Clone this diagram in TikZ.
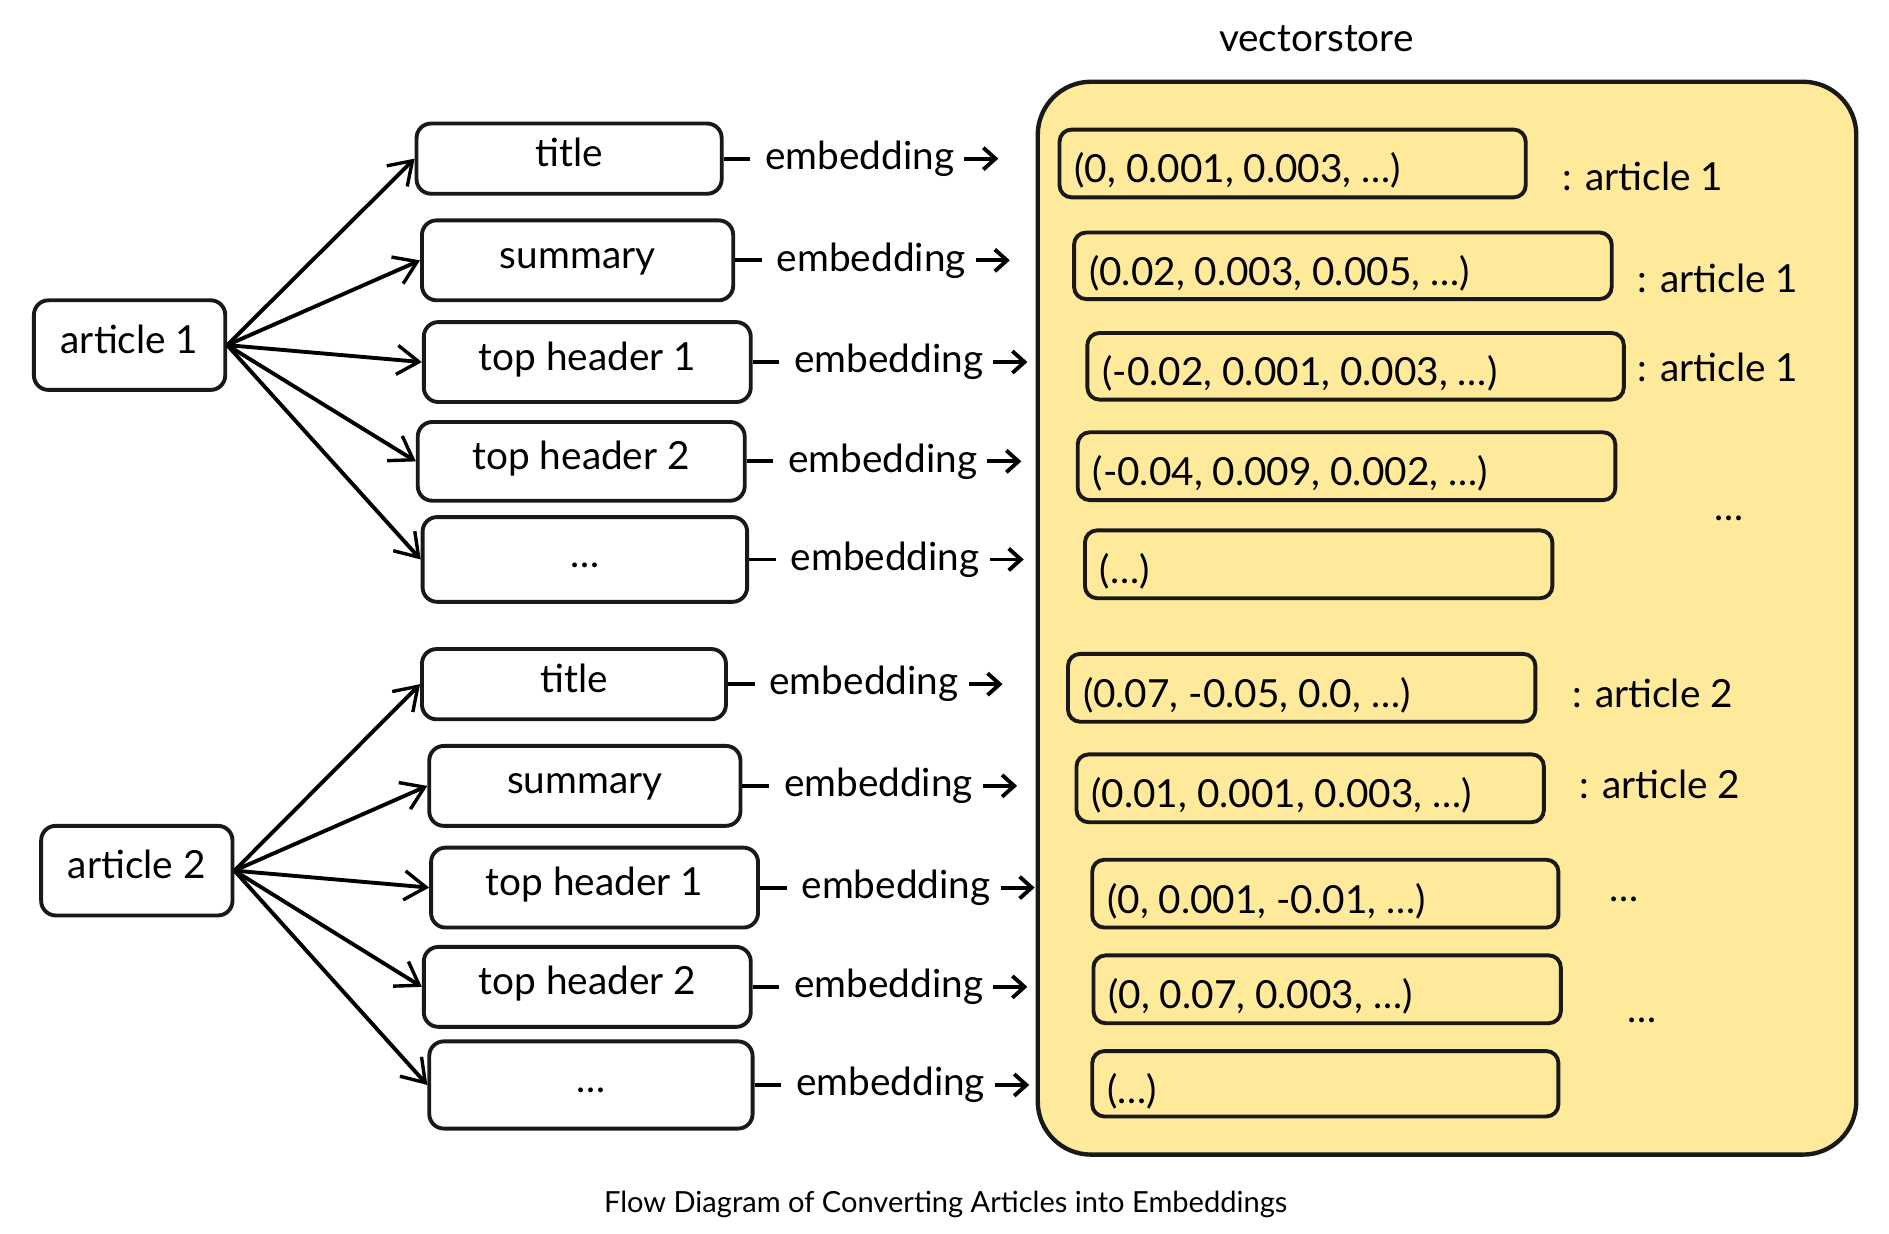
\documentclass[tikz,border=0pt]{standalone}
\usepackage{fontspec}
\setmainfont{Lato}
\usetikzlibrary{arrows.meta}
\begin{document}
\begin{tikzpicture}[x=0.5pt,y=-0.5pt,
 box/.style={draw=black!90,line width=1.6pt,rounded corners=6pt,fill=white,inner sep=0pt,font=\fontsize{16}{19}\selectfont,text height=1.75ex,text depth=0.45ex},
 vbox/.style={draw=black!90,line width=1.6pt,rounded corners=5pt,inner sep=0pt,fill=none},
 txt/.style={font=\fontsize{16}{19}\selectfont,inner sep=1pt},
 arr/.style={line width=1.6pt,-{Straight Barb[length=9pt,width=12pt,line width=1.4pt]}},
 emb/.style={line width=1.6pt,-{Straight Barb[length=5pt,width=9pt,line width=1.6pt]}}]
\useasboundingbox (0,0) rectangle (1560,1019);
\node[txt] (vs) at (1087,32) {vectorstore};
\node[draw=black!90,line width=1.8pt,fill={rgb,255:red,255;green,233;blue,154},rounded corners=22pt,minimum width=338pt,minimum height=443pt,inner sep=0pt] (store) at (1195,510.5) {};
\node[box,minimum width=79pt,minimum height=37pt] (a1) at (107,285) {article 1};
\node[box,minimum width=79pt,minimum height=37pt] (a2) at (113,719) {article 2};
\foreach \n/\x/\y/\w/\h/\t/\a in {
 p1/470/131/126/29/title/a1, p2/477/215/128.5/33/summary/a1, p3/485/299/135/33/top header 1/a1,
 p4/480/381/135/32.5/top header 2/a1, p5/483/462/134/35/\ldots/a1,
 q1/474/565/125.5/29/title/a2, q2/483/649/128.5/33/summary/a2, q3/491/733/135/33/top header 1/a2,
 q4/485/815/135/33/top header 2/a2, q5/488/896/133.5/36/\ldots/a2}{
 \node[box,minimum width=\w pt,minimum height=\h pt] (\n) at (\x,\y) {\t};
 \draw[arr] (\a.east) -- (\n.west);
 \node[txt,anchor=west] (\n l) at ([xshift=16pt]\n.east) {embedding};
 \coordinate (\n d) at ([xshift=11pt]\n.east);
 \draw[line width=1.6pt] (\n.east) -- (\n d);
 \coordinate (\n s) at ([xshift=3pt]\n l.east);
 \coordinate (\n t) at ([xshift=17pt]\n l.east);
 \draw[emb] (\n s) -- (\n t);
}
\foreach \n/\xa/\xb/\ya/\yb/\t in {
 v1/875/1260/107/163/{(0, 0.001, 0.003, \ldots)}, v2/887/1331/192/247/{(0.02, 0.003, 0.005, \ldots)},
 v3/898/1341/275/330/{(-0.02, 0.001, 0.003, \ldots)}, v4/890/1334/357/413/{(-0.04, 0.009, 0.002, \ldots)},
 v5/896/1282/438/494/{(\ldots)}, v6/882/1268/540/596/{(0.07, -0.05, 0.0, \ldots)},
 v7/889/1275/623/679/{(0.01, 0.001, 0.003, \ldots)}, v8/902/1287/710/766/{(0, 0.001, -0.01, \ldots)},
 v9/903/1289/789/845/{(0, 0.07, 0.003, \ldots)}, v10/902/1287/868/922/{(\ldots)}}{
 \draw[vbox] (\xa,\ya) rectangle (\xb,\yb);
 \node[txt,anchor=west] (\n) at (\xa+10,{(\ya+\yb)/2+6}) {\t};
}
\node[txt,anchor=west] (l1) at (1288,146) {: article 1};
\node[txt,anchor=west] (l2) at (1350,230) {: article 1};
\node[txt,anchor=west] (l3) at (1350,303) {: article 1};
\node[txt] (d1) at (1428,428) {\ldots};
\node[txt,anchor=west] (l6) at (1296,573) {: article 2};
\node[txt,anchor=west] (l7) at (1302,648) {: article 2};
\node[txt] (d2) at (1341,743) {\ldots};
\node[txt] (d3) at (1356,843) {\ldots};
\node[font=\fontsize{12}{14}\selectfont] (cap) at (781,995) {Flow Diagram of Converting Articles into Embeddings};
\end{tikzpicture}
\end{document}
